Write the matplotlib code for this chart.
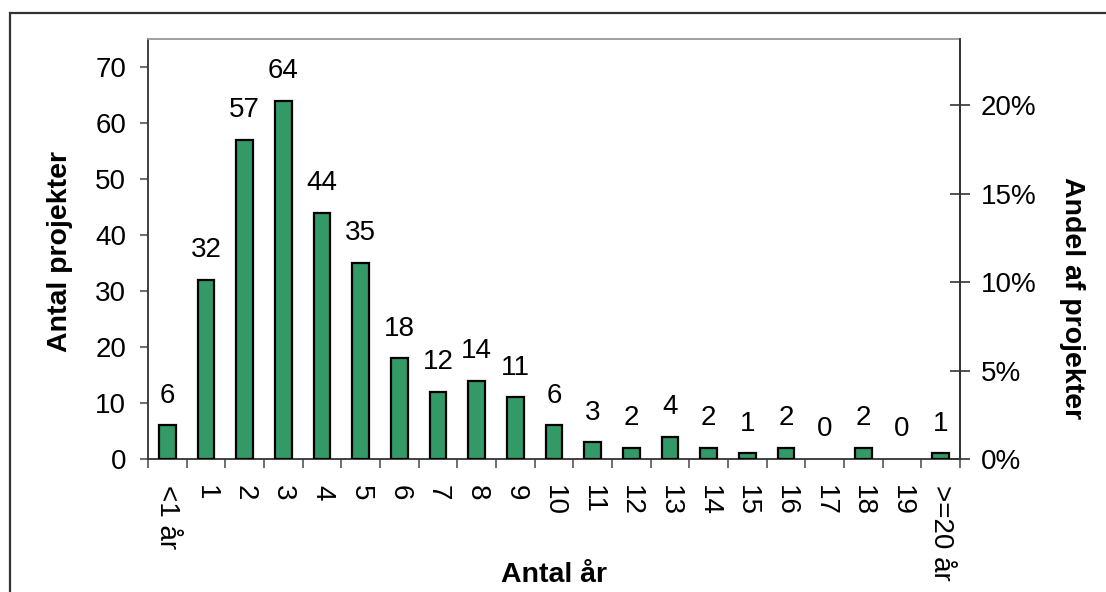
import matplotlib
matplotlib.use("Agg")
import matplotlib.pyplot as plt
from matplotlib.patches import Rectangle
from matplotlib.ticker import PercentFormatter, FixedLocator

plt.rcParams['font.family'] = ['Liberation Sans', 'DejaVu Sans']

categories = ["<1 år", "1", "2", "3", "4", "5", "6", "7", "8", "9", "10",
              "11", "12", "13", "14", "15", "16", "17", "18", "19", ">=20 år"]
counts = [6, 32, 57, 64, 44, 35, 18, 12, 14, 11, 6, 3, 2, 4, 2, 1, 2, 0, 2, 0, 1]
left_ticks = [0, 10, 20, 30, 40, 50, 60, 70]
right_ticks = [0.0, 0.05, 0.10, 0.15, 0.20]
left_max = 75
total = sum(counts)

W, H = 1106, 592
fig = plt.figure(figsize=(W / 100, H / 100), dpi=100)
ax = fig.add_axes([148 / W, 1 - 459 / H, (960 - 148) / W, (459 - 39) / H])

x = list(range(len(categories)))
for i, v in zip(x, counts):
    if v > 0:
        ax.bar(i, v, width=0.43, color='#339966', edgecolor='black', linewidth=1.6, zorder=3)
    ax.annotate(str(v), (i, v), xytext=(0, 16.2), textcoords='offset points',
                ha='center', va='baseline', fontsize=20)

ax.set_xlim(-0.5, len(categories) - 0.5)
ax.set_ylim(0, left_max)
ax.set_yticks(left_ticks)
ax.tick_params(axis='y', direction='out', length=5.8, width=1.2, color='#555555',
               labelsize=20, pad=10)
ax.set_xticks(x)
ax.set_xticklabels(categories, rotation=270, fontsize=20)
ax.tick_params(axis='x', which='major', length=0, pad=19)
ax.xaxis.set_minor_locator(FixedLocator([i - 0.5 for i in range(len(categories) + 1)]))
ax.tick_params(axis='x', which='minor', direction='out', length=6.5, width=1.2, color='#555555')

for s in ['left', 'bottom', 'right']:
    ax.spines[s].set_color('#333333')
    ax.spines[s].set_linewidth(1.3)
ax.spines['top'].set_color('#999999')
ax.spines['top'].set_linewidth(1.3)

ax2 = ax.twinx()
ax2.set_ylim(0, left_max / total)
ax2.set_yticks(right_ticks)
ax2.yaxis.set_major_formatter(PercentFormatter(1.0, decimals=0))
ax2.tick_params(axis='y', direction='inout', length=14.4, width=1.2, color='#333333',
                labelsize=20, pad=8)
for s in ['left', 'top', 'bottom']:
    ax2.spines[s].set_visible(False)
ax2.spines['right'].set_color('#333333')
ax2.spines['right'].set_linewidth(1.3)

fig.text(60 / W, 1 - 252 / H, "Antal projekter", rotation=90, ha='center', va='center',
         fontsize=20.5, fontweight='bold')
fig.text(1072 / W, 1 - 298 / H, "Andel af projekter", rotation=270, ha='center', va='center',
         fontsize=20.5, fontweight='bold')
fig.text(554 / W, 1 - 582 / H, "Antal år", ha='center', va='baseline',
         fontsize=20.5, fontweight='bold')

fig.add_artist(Rectangle((10 / W, -0.1), 2, 1 - 13 / H + 0.1, transform=fig.transFigure,
                         fill=False, edgecolor='#333333', linewidth=1.6))

fig.savefig("out.png", dpi=100)
